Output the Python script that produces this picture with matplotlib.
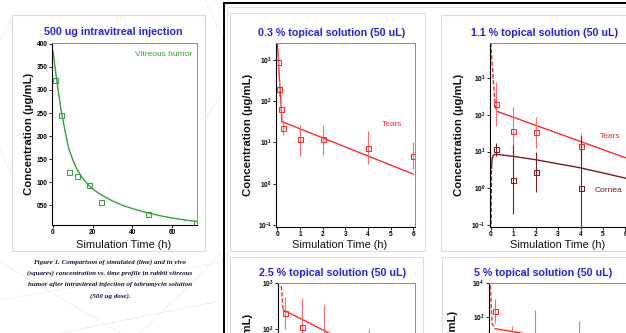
import math
import matplotlib
matplotlib.use("Agg")
import matplotlib.pyplot as plt
from matplotlib.patches import Rectangle
from matplotlib.lines import Line2D
from matplotlib.ticker import NullLocator, FixedLocator, FuncFormatter

plt.rcParams['font.family'] = ['Liberation Sans', 'DejaVu Sans']
plt.rcParams['mathtext.fontset'] = 'custom'
plt.rcParams['mathtext.rm'] = 'Liberation Sans'
plt.rcParams['mathtext.bf'] = 'Liberation Sans:bold'
plt.rcParams['mathtext.default'] = 'bf'

# ---------------- data ----------------
# Panel 1: 500 ug intravitreal injection (vitreous humor)
vh_t_obs = [1, 4, 8, 12, 18, 24, 48, 72]
vh_c_obs = [322, 245, 121, 114, 93, 56, 30, 12]
vh_t_sim = [0, 1, 2, 4, 6, 8, 10, 12, 15, 18, 21, 24, 30, 36, 42, 48, 54, 60, 66, 72]
vh_c_sim = [385, 350, 318, 258, 212, 172, 148, 128, 108, 93, 82, 73, 59, 48, 40, 33, 27, 22, 18, 15]
vh_yticks = [50, 100, 150, 200, 250, 300, 350, 400]
vh_yticklabels = ['050', '100', '150', '200', '250', '300', '350', '400']
vh_xticks = [0, 20, 40, 60]

# Panel 2: 0.3 % topical solution - tears
p03_t_sim = [0, 0.03, 0.06, 0.1, 0.15, 0.2, 6]
p03_c_sim = [2600, 1400, 700, 290, 110, 32, 1.7]
p03_t_obs = [0.03, 0.08, 0.17, 0.25, 1, 2, 4, 6]
p03_c_obs = [900, 200, 65, 22, 12, 12, 7.5, 4.8]
p03_c_lo = [600, 130, 50, 15, 4.8, 5, 3.0, 2.3]
p03_c_hi = [1300, 300, 90, 35, 26, 26, 19, 10]

# Panel 3: 1.1 % topical solution - tears and cornea
p11_tear_t_sim = [0, 0.05, 0.1, 0.15, 0.2, 0.27, 6]
p11_tear_c_sim = [9000, 3000, 1000, 400, 170, 124, 6.8]
p11_corn_t_sim = [0, 0.01, 0.03, 0.06, 0.1, 0.2, 0.35, 1, 2, 4, 6]
p11_corn_c_sim = [0.01, 0.3, 3.5, 6.5, 7.8, 8.4, 8.3, 7.4, 6.0, 3.6, 1.9]
p11_tear_t_obs = [0.25, 1, 2, 4]
p11_tear_c_obs = [200, 37, 33, 14.5]
p11_tear_lo = [48, 9.4, 12.6, 6]
p11_tear_hi = [800, 167, 87, 32]
p11_corn_t_obs = [0.25, 1, 2, 4]
p11_corn_c_obs = [11.4, 1.7, 2.75, 1.0]
p11_corn_lo = [7.5, 0.2, 0.8, 0.05]
p11_corn_hi = [17, 15.5, 10, 26]

# Panel 4: 2.5 % topical solution - tears
p25_t_sim = [0, 0.05, 0.1, 0.17, 6]
p25_c_sim = [3000, 1500, 700, 260, 9.6]
p25_t_obs = [0.25, 1, 2, 4]
p25_c_obs = [220, 110, 50, 30]
p25_lo = [100, 20, 10, 5]
p25_hi = [500, 466, 333, 100]

# Panel 5: 5 % topical solution - tears
p5_t_sim = [0, 0.05, 0.1, 0.25, 1, 6]
p5_c_sim = [30000, 3000, 660, 470, 390, 110]
p5_t_obs = [0.25, 1, 2, 4]
p5_c_obs = [1550, 120, 200, 90]
p5_lo = [700, 30, 40, 20]
p5_hi = [3500, 550, 1700, 810]

titles = ["500 ug intravitreal injection",
          "0.3 % topical solution (50 uL)",
          "1.1 % topical solution (50 uL)",
          "2.5 % topical solution (50 uL)",
          "5 % topical solution (50 uL)"]
caption_lines = ["Figure 1. Comparison of simulated (line) and in vivo",
                 "(squares) concentration vs. time profile in rabbit vitreous",
                 "humor after intravitreal injection of tobramycin solution",
                 "(500 ug dose)."]

# ---------------- styling ----------------
W, H = 626, 333
BLUE = '#2323E6'
GREEN = '#36A03A'
RED = '#FF2A2A'
RED_ERR = '#FF6A6A'
DARKRED = '#7A1C1C'

fig = plt.figure(figsize=(W / 100, H / 100), dpi=100)
fig.patch.set_facecolor('white')


def fx(x):
    return x / W


def fy(y):
    return 1 - y / H


def add_ax(l, t, r, b):
    return fig.add_axes([fx(l), fy(b), (r - l) / W, (b - t) / H])


def box(l, t, r, b, ec='#DCDCDC', lw=0.8, z=-5):
    fig.add_artist(Rectangle((fx(l), fy(b)), (r - l) / W, (b - t) / H,
                             transform=fig.transFigure, facecolor='white',
                             edgecolor=ec, lw=lw, zorder=z))


def ftext(x, y, s, **kw):
    fig.text(fx(x), fy(y), s, **kw)


# faint background lines
bg_lines = [((0, 300), (225, 262)), ((0, 262), (120, 333)), ((60, 333), (225, 300)),
            ((0, 40), (12, 20)), ((0, 150), (12, 175)), ((140, 333), (225, 250)),
            ((205, 0), (224, 40)), ((205, 120), (224, 90))]
for (x0, y0), (x1, y1) in bg_lines:
    fig.add_artist(Line2D([fx(x0), fx(x1)], [fy(y0), fy(y1)], transform=fig.transFigure,
                          color='#F0F0F0', lw=0.8, zorder=-10))

# black frame
fig.add_artist(Rectangle((fx(224), fy(800)), 800 / W, (800 - 3) / H, transform=fig.transFigure,
                         facecolor='white', edgecolor='black', lw=1.4, zorder=-8))
fig.add_artist(Rectangle((fx(227.5), fy(800)), 800 / W, (800 - 6.5) / H, transform=fig.transFigure,
                         facecolor='none', edgecolor='#DDDDDD', lw=0.6, zorder=-7))

# panel boxes
box(12, 15, 205, 251)
box(230, 13, 425, 251)
box(441, 15, 800, 251)
box(230, 257, 423, 600)
box(442, 257, 800, 600)


def style_ax(ax):
    for s in ['left', 'bottom']:
        ax.spines[s].set_color('black')
        ax.spines[s].set_linewidth(0.8)
    for s in ['top', 'right']:
        ax.spines[s].set_color('#8C8C8C')
        ax.spines[s].set_linewidth(0.7)
    ax.tick_params(axis='both', which='major', direction='out', length=2, width=0.6,
                   labelsize=4.7, pad=1, colors='black')
    for lab in ax.get_xticklabels() + ax.get_yticklabels():
        lab.set_fontweight('bold')
    ax.patch.set_facecolor('white')


def log_axis(ax, emin, emax, lo, hi):
    ax.set_yscale('log')
    ax.set_ylim(lo, hi)
    ax.yaxis.set_major_locator(FixedLocator([10.0 ** e for e in range(emin, emax + 1)]))
    ax.yaxis.set_minor_locator(NullLocator())
    ax.yaxis.set_major_formatter(FuncFormatter(lambda v, p: r'$10^{%d}$' % round(math.log10(v))))
    ax.set_xlim(-0.06, 6.07)
    ax.set_xticks(range(0, 7))


def errs(c, lo, hi):
    return [[ci - l for ci, l in zip(c, lo)], [h - ci for ci, h in zip(c, hi)]]


mk = dict(marker='s', ms=3.6, mfc='none', mew=0.75, ls='none', elinewidth=0.8, capsize=0)

# ---- Panel 1 ----
ax1 = add_ax(52, 43, 197, 224.5)
ax1.plot(vh_t_sim, vh_c_sim, color=GREEN, lw=1.0)
ax1.plot(vh_t_obs, vh_c_obs, marker='s', ms=3.6, mfc='none', mec=GREEN, mew=0.75, ls='none')
ax1.set_xlim(-0.5, 72.5)
ax1.set_ylim(8, 402)
ax1.set_xticks(vh_xticks)
ax1.set_yticks(vh_yticks)
ax1.set_yticklabels(vh_yticklabels)
style_ax(ax1)

# ---- Panel 2 ----
ax2 = add_ax(276, 43, 415, 227)
ax2.plot(p03_t_sim, p03_c_sim, color=RED, lw=1.0)
ax2.errorbar(p03_t_obs, p03_c_obs, yerr=errs(p03_c_obs, p03_c_lo, p03_c_hi),
             color=RED, mec=RED, ecolor=RED_ERR, **mk)
log_axis(ax2, -1, 3, 10 ** -1.05, 10 ** 3.41)
style_ax(ax2)

# ---- Panel 3 ----
ax3 = add_ax(489.5, 43, 627, 227)
ax3.plot(p11_tear_t_sim[:5], p11_tear_c_sim[:5], color=RED, lw=1.0, ls=(0, (3, 1.5)))
ax3.plot(p11_tear_t_sim[4:], p11_tear_c_sim[4:], color=RED, lw=1.0)
ax3.plot(p11_corn_t_sim[:3], p11_corn_c_sim[:3], color=DARKRED, lw=1.0, ls=(0, (3, 1.5)))
ax3.plot(p11_corn_t_sim[2:], p11_corn_c_sim[2:], color=DARKRED, lw=1.0)
ax3.errorbar(p11_tear_t_obs, p11_tear_c_obs, yerr=errs(p11_tear_c_obs, p11_tear_lo, p11_tear_hi),
             color=RED, mec=RED, ecolor=RED_ERR, **mk)
ax3.errorbar(p11_corn_t_obs, p11_corn_c_obs, yerr=errs(p11_corn_c_obs, p11_corn_lo, p11_corn_hi),
             color=DARKRED, mec=DARKRED, ecolor=DARKRED, **mk)
log_axis(ax3, -1, 3, 10 ** -1.05, 10 ** 3.95)
style_ax(ax3)

# ---- Panel 4 ----
ax4 = add_ax(278, 283, 415, 469)
ax4.plot(p25_t_sim[:4], p25_c_sim[:4], color=RED, lw=1.0, ls=(0, (3, 1.5)))
ax4.plot(p25_t_sim[3:], p25_c_sim[3:], color=RED, lw=1.0)
ax4.errorbar(p25_t_obs, p25_c_obs, yerr=errs(p25_c_obs, p25_lo, p25_hi),
             color=RED, mec=RED, ecolor=RED_ERR, **mk)
log_axis(ax4, -1, 3, 10 ** -1.05, 10 ** 3)
style_ax(ax4)
ax4.tick_params(axis='x', labelbottom=False)

# ---- Panel 5 ----
ax5 = add_ax(488.5, 283, 625.5, 457)
ax5.plot(p5_t_sim[:4], p5_c_sim[:4], color=RED, lw=1.0, ls=(0, (3, 1.5)))
ax5.plot(p5_t_sim[3:], p5_c_sim[3:], color=RED, lw=1.0)
ax5.errorbar(p5_t_obs, p5_c_obs, yerr=errs(p5_c_obs, p5_lo, p5_hi),
             color=RED, mec=RED, ecolor=RED_ERR, **mk)
log_axis(ax5, -1, 4, 10 ** -1.05, 10 ** 4)
style_ax(ax5)
ax5.tick_params(axis='x', labelbottom=False)

# ---- titles ----
title_pos = [(113, 32), (332, 33), (545, 33), (332.5, 273), (543, 273)]
for (x, y), s in zip(title_pos, titles):
    ftext(x, y, s, color=BLUE, fontsize=7.7, fontweight='bold', ha='center', va='center')

# ---- axis labels ----
for x in [124, 340, 558]:
    ftext(x, 245, "Simulation Time (h)", fontsize=7.9, ha='center', va='center', color='#111111')
for x, y in [(29, 134), (248, 135), (459, 135), (248, 375), (453, 372)]:
    ftext(x, y, "Concentration (µg/mL)", fontsize=8.2, fontweight='bold', rotation=90,
          ha='center', va='center', color='#111111')

# ---- series labels ----
ftext(192, 54, "Vitreous humor", color=GREEN, fontsize=6.0, ha='right', va='center')
ftext(402, 124, "Tears", color=RED, fontsize=6.0, ha='right', va='center')
ftext(620, 137, "Tears", color=RED, fontsize=6.0, ha='right', va='center')
ftext(622, 191, "Cornea", color=DARKRED, fontsize=6.0, ha='right', va='center')

# ---- caption ----
for i, line in enumerate(caption_lines):
    ftext(110, 262 + i * 11.3, line, fontsize=5.0, style='italic', fontweight='bold',
          family='Liberation Serif', ha='center', va='center', color='#14143A')

fig.savefig("out.png", dpi=100)
